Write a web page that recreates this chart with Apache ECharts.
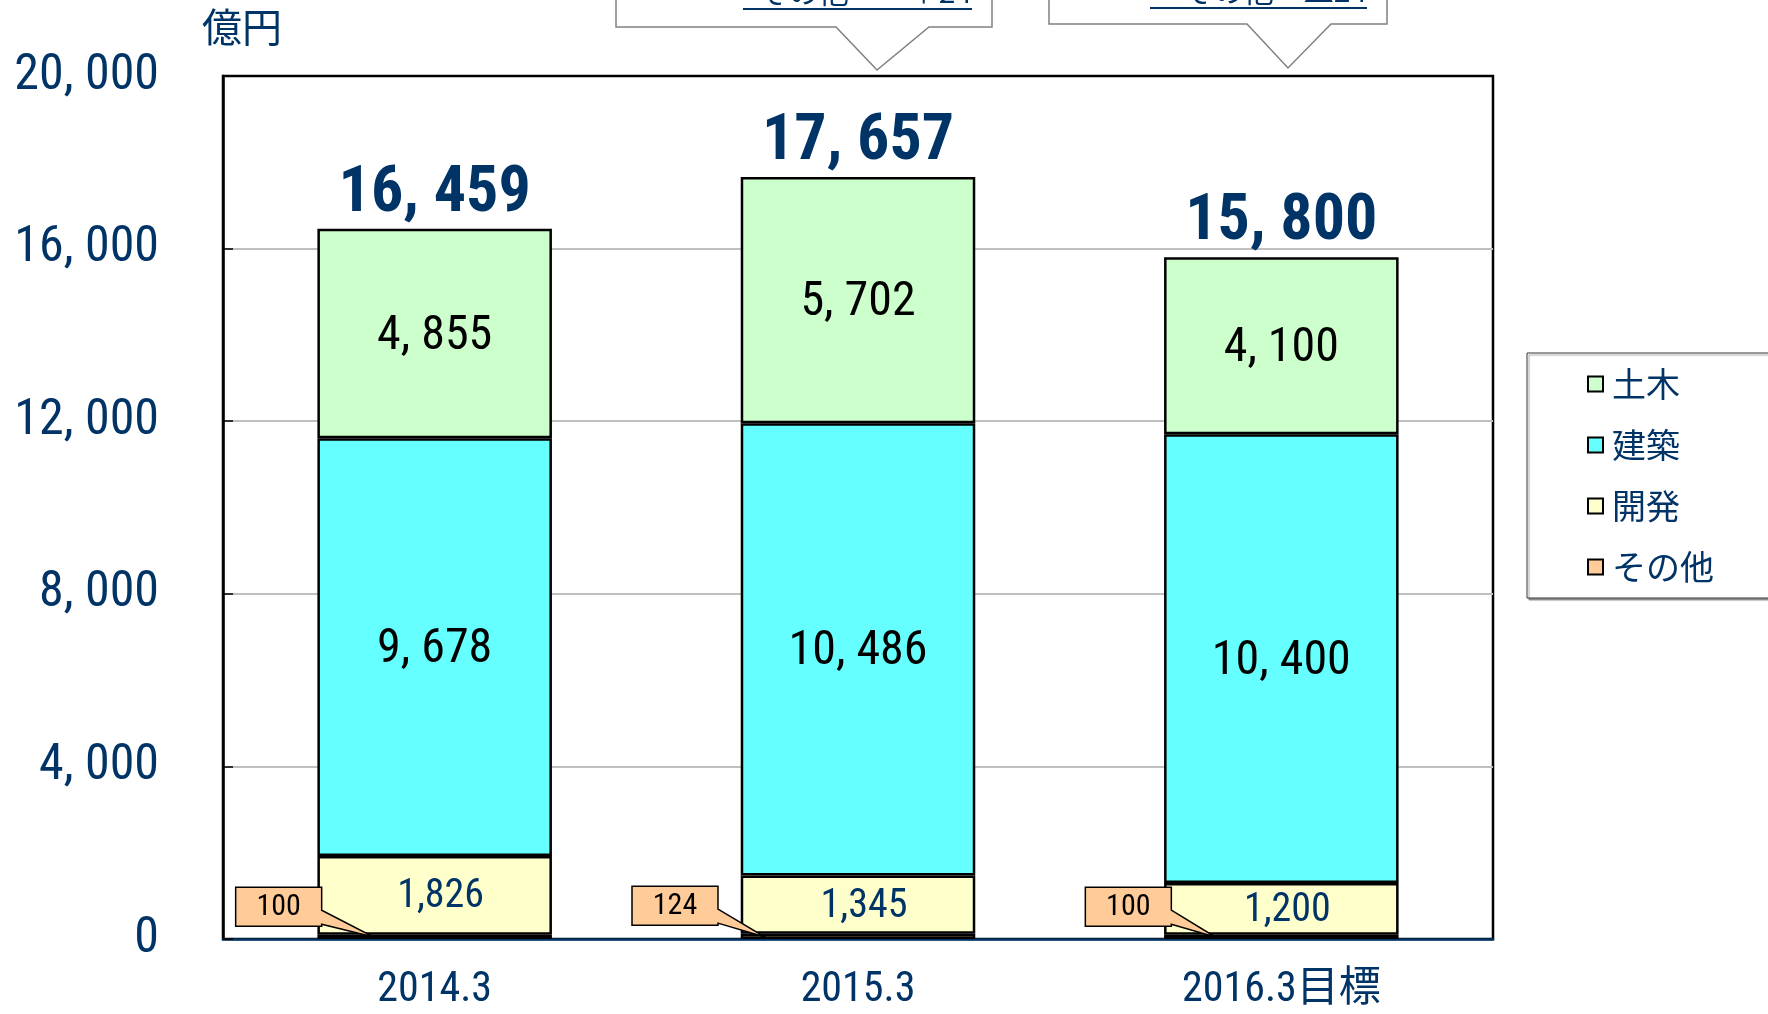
<!DOCTYPE html>
<html>
<head>
<meta charset="utf-8">
<script src="https://cdn.jsdelivr.net/npm/echarts@6/dist/echarts.min.js"></script>
<style>
  html, body { margin: 0; padding: 0; background: #fff; }
  #main { width: 1768px; height: 1014px; }
</style>
</head>
<body>
<div id="main"></div>
<script>
var categories = ['2014.3', '2015.3', '2016.3目標'];
var sonota = [100, 124, 100];      // その他
var kaihatsu = [1826, 1345, 1200]; // 開発
var kenchiku = [9678, 10486, 10400]; // 建築
var doboku = [4855, 5702, 4100];   // 土木
var totals = [16459, 17657, 15800];
var yTicks = [0, 4000, 8000, 12000, 16000, 20000];

var navy = '#003366';
var numFont = "'Liberation Sans Narrow', 'Roboto Condensed', 'DejaVu Sans Condensed', 'Noto Sans CJK JP', sans-serif";
var jpFont = "'Noto Sans CJK JP', sans-serif";

// 20, 000 style (wide comma)
function wide(v) {
    return Number(v).toLocaleString('en-US').replace(',', ', ');
}

var chart = echarts.init(document.getElementById('main'));

var barBorder = { borderColor: '#000', borderWidth: 2.5 };

// where each その他 callout sits, relative to its bar (px)
var boxShift = [-156, -183, -153];
var tipShift = [-61, -93, -66];

// callout box + wedge for その他 values
function renderCallout(params, api) {
    var idx = api.value(0);
    var top = api.coord([idx, api.value(1)]);
    var base = api.coord([idx, 0]);
    var cx = top[0] + boxShift[idx], cy = top[1] - 28;
    var w = 86, h = 39;
    var L = cx - w / 2, R = cx + w / 2, T = cy - h / 2, B = cy + h / 2;
    return {
        type: 'group',
        children: [
            {
                type: 'polygon',
                shape: { points: [[L, T], [R, T], [R, T + 23], [top[0] + tipShift[idx], base[1] - 2], [R, B - 2], [R, B], [L, B]] },
                style: { fill: '#FFCC99', stroke: '#000', lineWidth: 1.5 }
            },
            {
                type: 'text', x: cx, y: cy + 1,
                style: {
                    text: String(api.value(1)), fill: '#000',
                    font: "30px " + numFont, align: 'center', verticalAlign: 'middle'
                }
            }
        ]
    };
}

chart.setOption({
    animation: false,
    grid: {
        left: 223, right: 275, top: 76, bottom: 75,
        show: true, borderColor: '#000', borderWidth: 2.5
    },
    legend: {
        data: ['土木', '建築', '開発', 'その他'],
        orient: 'vertical',
        left: 1527, top: 353,
        padding: [11, 200, 11, 60],
        backgroundColor: '#fff',
        borderColor: '#333', borderWidth: 1,
        shadowColor: 'rgba(0,0,0,0.35)', shadowOffsetX: 2, shadowOffsetY: 2, shadowBlur: 1,
        itemWidth: 15, itemHeight: 15, itemGap: 21,
        icon: 'rect',
        itemStyle: { borderColor: '#000', borderWidth: 2 },
        textStyle: { fontFamily: jpFont, fontSize: 34, color: navy, lineHeight: 40, padding: [0, 0, 0, 4] }
    },
    xAxis: {
        type: 'category',
        data: categories,
        axisLine: { lineStyle: { color: navy, width: 2.5 } },
        axisTick: { inside: true, length: 11, lineStyle: { color: navy, width: 2 } },
        axisLabel: { margin: 30, fontFamily: numFont, fontSize: 42, color: navy }
    },
    yAxis: {
        type: 'value',
        min: 0, max: 20000, interval: 4000,
        axisLine: { show: true, lineStyle: { color: '#000', width: 2.5 } },
        axisTick: { show: true, inside: true, length: 10, lineStyle: { color: '#000', width: 1.5 } },
        splitLine: { showMinLine: false, showMaxLine: false, lineStyle: { color: '#c0c0c0', width: 2 } },
        axisLabel: {
            margin: 64, fontFamily: numFont, fontSize: 50, color: navy,
            formatter: function (v) { return yTicks.indexOf(v) >= 0 ? wide(v) : ''; }
        }
    },
    series: [
        {
            name: 'その他', type: 'bar', stack: 'a', barWidth: '55.4%',
            data: sonota,
            itemStyle: Object.assign({ color: '#FFCC99' }, barBorder)
        },
        {
            name: '開発', type: 'bar', stack: 'a',
            data: kaihatsu,
            itemStyle: Object.assign({ color: '#FFFFCC' }, barBorder),
            label: {
                show: true, position: 'inside', offset: [6, 2],
                fontFamily: numFont, fontSize: 40, color: navy,
                formatter: function (p) { return p.value.toLocaleString('en-US'); }
            }
        },
        {
            name: '建築', type: 'bar', stack: 'a',
            data: kenchiku,
            itemStyle: Object.assign({ color: '#66FFFF' }, barBorder),
            label: {
                show: true, position: 'inside', offset: [0, 3],
                fontFamily: numFont, fontSize: 48, color: '#000',
                formatter: function (p) { return wide(p.value); }
            }
        },
        {
            name: '土木', type: 'bar', stack: 'a',
            data: doboku,
            itemStyle: Object.assign({ color: '#CCFFCC' }, barBorder),
            label: {
                show: true, position: 'inside', offset: [0, 3],
                fontFamily: numFont, fontSize: 48, color: '#000',
                formatter: function (p) { return wide(p.value); }
            }
        },
        {
            name: '合計', type: 'bar', stack: 'a',
            data: [0, 0, 0],
            itemStyle: { color: 'transparent', borderWidth: 0 },
            label: {
                show: true, position: 'top', distance: 2,
                fontFamily: numFont, fontSize: 64, fontWeight: 'bold', color: navy,
                formatter: function (p) { return wide(totals[p.dataIndex]); }
            }
        },
        {
            name: 'その他ラベル', type: 'custom', z: 10,
            data: sonota.map(function (v, i) { return [i, v]; }),
            renderItem: renderCallout
        }
    ],
    graphic: [
        {
            type: 'text', left: 202, top: 7,
            style: { text: '億円', font: "40px 'Noto Sans CJK JP'", fill: navy }
        },
        // top callouts (mostly cut off by the page edge)
        {
            type: 'polygon',
            shape: { points: [[616, -60], [992, -60], [992, 27], [929, 27], [877, 70], [836, 27], [616, 27]] },
            style: { fill: '#fff', stroke: '#808080', lineWidth: 1.5 }
        },
        {
            type: 'polygon',
            shape: { points: [[1049, -60], [1387, -60], [1387, 24], [1331, 24], [1288, 68], [1247, 24], [1049, 24]] },
            style: { fill: '#fff', stroke: '#808080', lineWidth: 1.5 }
        },
        {
            type: 'text', x: 972, y: 7,
            style: { text: 'その他　　＋24', font: "30px 'Noto Sans CJK JP'", fill: navy, align: 'right', verticalAlign: 'bottom' }
        },
        {
            type: 'line', shape: { x1: 743, y1: 9, x2: 972, y2: 9 },
            style: { stroke: navy, lineWidth: 2 }
        },
        {
            type: 'text', x: 1367, y: 6,
            style: { text: 'その他　▲24', font: "30px 'Noto Sans CJK JP'", fill: navy, align: 'right', verticalAlign: 'bottom' }
        },
        {
            type: 'line', shape: { x1: 1150, y1: 8, x2: 1367, y2: 8 },
            style: { stroke: navy, lineWidth: 2 }
        }
    ]
});
</script>
</body>
</html>
